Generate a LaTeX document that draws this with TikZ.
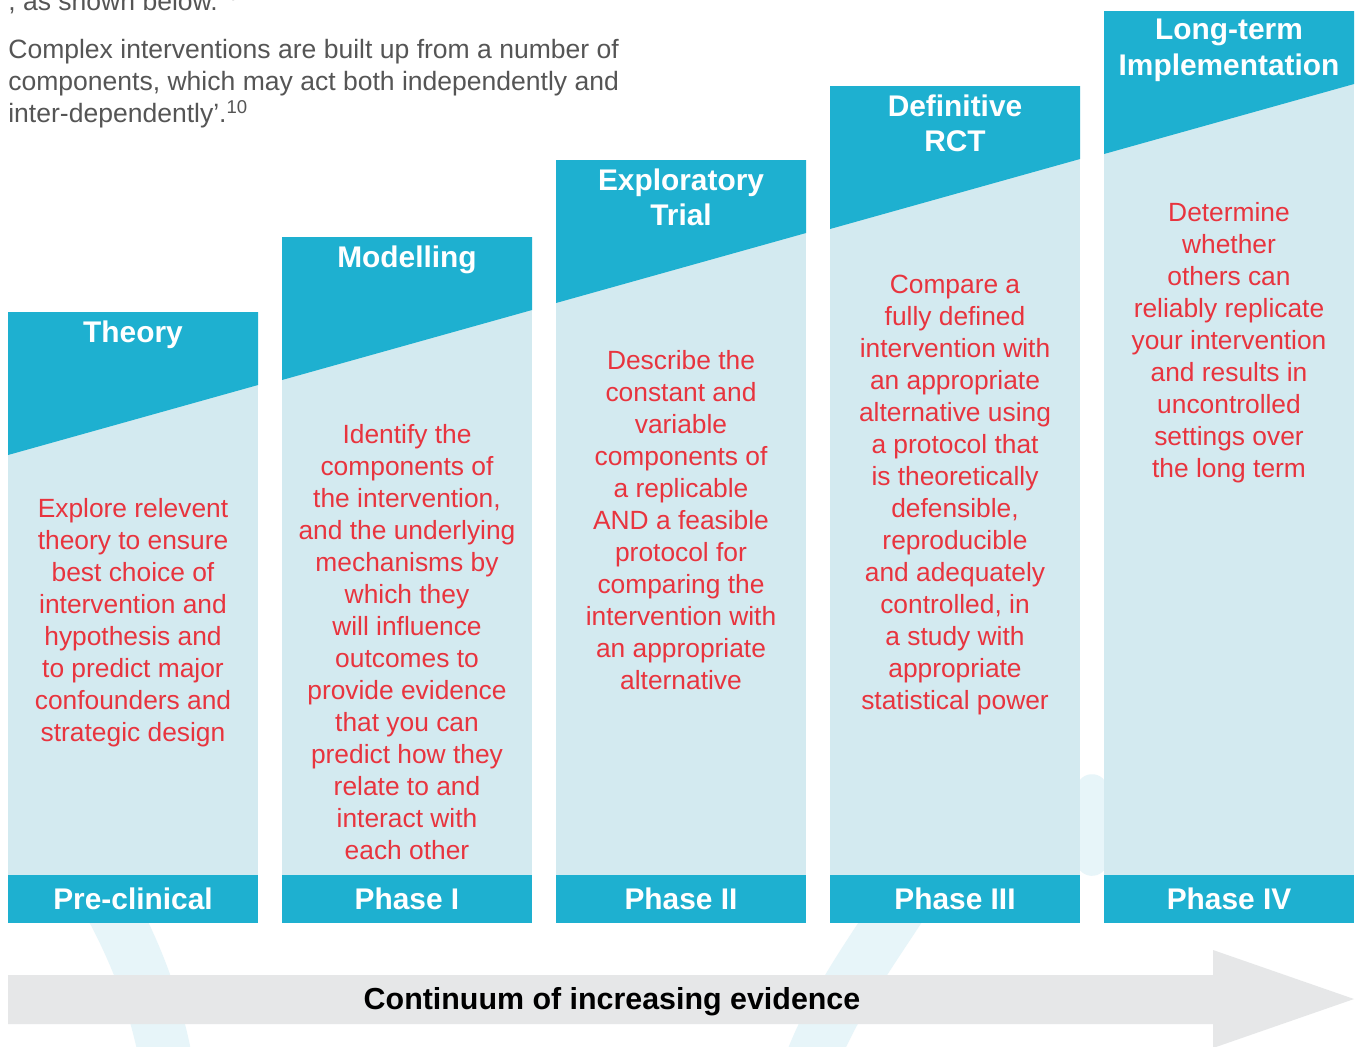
\documentclass[tikz,border=0pt]{standalone}
\usepackage{fontspec}
\setmainfont{Liberation Sans}
\usetikzlibrary{positioning}

\definecolor{phaseteal}{HTML}{1EB0D0}
\definecolor{phaselight}{HTML}{D3EAF0}
\definecolor{bodyred}{HTML}{E8343E}
\definecolor{arrowgrey}{HTML}{E6E7E8}
\definecolor{introgrey}{HTML}{555555}
\definecolor{swirlblue}{HTML}{C4E6F0}

\tikzset{
  headtext/.style={anchor=north, inner sep=0pt, align=center, text=white,
    font=\fontsize{17}{20.4}\selectfont\bfseries},
  bodytext/.style={anchor=north, inner sep=0pt, align=center, text=bodyred,
    font=\fontsize{15}{18.2}\selectfont},
  phasetext/.style={inner sep=0pt, text=white,
    font=\fontsize{17}{20.4}\selectfont\bfseries},
  introtext/.style={inner sep=0pt, align=left, text=introgrey,
    font=\fontsize{15.1}{18.1}\selectfont},
  swirl/.style={swirlblue, opacity=0.4, line width=30, line cap=round},
}

\begin{document}
\begin{tikzpicture}[x=0.02cm, y=-0.02cm]

    % Page
    \useasboundingbox (0,0) rectangle (1361,1046);
    \fill[white] (0,0) rectangle (1361,1046);

    % Faint background swirls
    \draw[swirl] (90,870) .. controls (135,945) and (155,1000) .. (168,1070);
    \draw[swirl] (930,860) .. controls (885,935) and (835,995) .. (808,1070);
    \draw[swirl, line width=18] (1092,790) .. controls (1094,815) and (1094,835) .. (1092,860);

    % Intro text
    \node[introtext, anchor=base west] (introcut) at (8,10)
        {, as shown below.\textsuperscript{10}};
    \node[introtext, anchor=north west] (intro) at (8,39)
        {Complex interventions are built up from a number of\\
         components, which may act both independently and\\
         inter-dependently’.\textsuperscript{10}};

    % Column 1 - Theory
    \fill[phaselight] (8,312) rectangle (258,875);
    \fill[phaseteal] (8,312) -- (258,312) -- (258,385) -- (8,455) -- cycle;
    \fill[phaseteal] (8,875) rectangle (258,923);

    % Column 2 - Modelling
    \fill[phaselight] (282,237) rectangle (532,875);
    \fill[phaseteal] (282,237) -- (532,237) -- (532,310) -- (282,380) -- cycle;
    \fill[phaseteal] (282,875) rectangle (532,923);

    % Column 3 - Exploratory Trial
    \fill[phaselight] (556,160) rectangle (806,875);
    \fill[phaseteal] (556,160) -- (806,160) -- (806,233) -- (556,303) -- cycle;
    \fill[phaseteal] (556,875) rectangle (806,923);

    % Column 4 - Definitive RCT
    \fill[phaselight] (830,86) rectangle (1080,875);
    \fill[phaseteal] (830,86) -- (1080,86) -- (1080,159) -- (830,229) -- cycle;
    \fill[phaseteal] (830,875) rectangle (1080,923);

    % Column 5 - Long-term Implementation
    \fill[phaselight] (1104,11) rectangle (1354,875);
    \fill[phaseteal] (1104,11) -- (1354,11) -- (1354,84) -- (1104,154) -- cycle;
    \fill[phaseteal] (1104,875) rectangle (1354,923);

    % Column headings
    \node[headtext] (hTheory) at (133,320) {Theory};
    \node[headtext] (hModel) at (407,245) {Modelling};
    \node[headtext] (hExplore) at (681,168) {Exploratory\\Trial};
    \node[headtext] (hRCT) at (955,94) {Definitive\\RCT};
    \node[headtext] (hLong) at (1229,19) {Long-term\\Implementation};

    % Column texts
    \node[bodytext] (bTheory) at (133,498)
        {Explore relevent\\theory to ensure\\best choice of\\intervention and\\
         hypothesis and\\to predict major\\confounders and\\strategic design};
    \node[bodytext] (bModel) at (407,424)
        {Identify the\\components of\\the intervention,\\and the underlying\\
         mechanisms by\\which they\\will influence\\outcomes to\\
         provide evidence\\that you can\\predict how they\\relate to and\\
         interact with\\each other};
    \node[bodytext] (bExplore) at (681,350)
        {Describe the\\constant and\\variable\\components of\\a replicable\\
         AND a feasible\\protocol for\\comparing the\\intervention with\\
         an appropriate\\alternative};
    \node[bodytext] (bRCT) at (955,275)
        {Compare a\\fully defined\\intervention with\\an appropriate\\
         alternative using\\a protocol that\\is theoretically\\defensible,\\
         reproducible\\and adequately\\controlled, in\\a study with\\
         appropriate\\statistical power};
    \node[bodytext] (bLong) at (1229,202)
        {Determine\\whether\\others can\\reliably replicate\\your intervention\\
         and results in\\uncontrolled\\settings over\\the long term};

    % Phase labels
    \node[phasetext] (pPre) at (133,899) {Pre-clinical};
    \node[phasetext] (pOne) at (407,899) {Phase I};
    \node[phasetext] (pTwo) at (681,899) {Phase II};
    \node[phasetext] (pThree) at (955,899) {Phase III};
    \node[phasetext] (pFour) at (1229,899) {Phase IV};

    % Evidence arrow
    \fill[arrowgrey] (8,975) -- (1213,975) -- (1213,950) -- (1354,999)
        -- (1213,1048) -- (1213,1024) -- (8,1024) -- cycle;
    \node[anchor=base, inner sep=0pt, font=\fontsize{17.3}{20}\selectfont\bfseries]
        (evidence) at (612,1009) {Continuum of increasing evidence};

\end{tikzpicture}
\end{document}
